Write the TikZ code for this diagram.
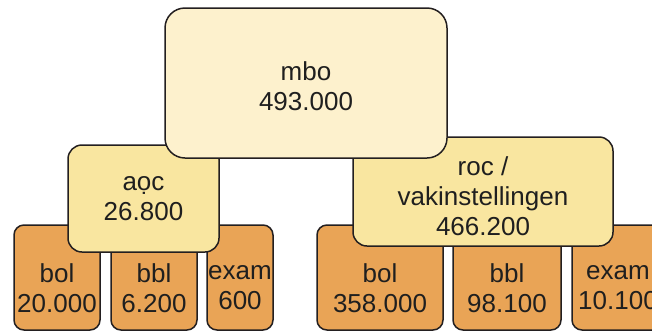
\documentclass[tikz,border=0pt]{standalone}
\usepackage{fontspec}
\setmainfont{Liberation Sans}
\definecolor{cream}{HTML}{FDF1CD}
\definecolor{yell}{HTML}{F9E6A0}
\definecolor{orng}{HTML}{E9A456}
\definecolor{edge}{HTML}{231F20}
\begin{document}
\begin{tikzpicture}[x=1pt,y=-1pt,
  box/.style={draw=edge,line width=1.5pt,inner sep=0pt,outer sep=0pt},
  topbox/.style={box,fill=cream,rounded corners=20pt},
  midbox/.style={box,fill=yell,rounded corners=14pt},
  lowbox/.style={box,fill=orng,rounded corners=10pt},
  txt/.style={inner sep=0pt,align=center,text=black!88,font=\fontsize{26}{30}\selectfont}]
\useasboundingbox (0,0) rectangle (652,333);
\begin{scope}
\clip (0,0) rectangle (652,333);
% bottom row
\node[lowbox,minimum width=86pt,minimum height=105pt] (lbol) at (57,277.5) {};
\node[lowbox,minimum width=86pt,minimum height=105pt] (lbbl) at (154,277.5) {};
\node[lowbox,minimum width=66pt,minimum height=105pt] (lexam) at (240,277.5) {};
\node[lowbox,minimum width=126pt,minimum height=105pt] (rbol) at (380,277.5) {};
\node[lowbox,minimum width=108pt,minimum height=105pt] (rbbl) at (507,277.5) {};
\node[lowbox,minimum width=128pt,minimum height=105pt] (rexam) at (636,277.5) {};
\node[txt] (lbolt) at (57,288) {bol\\20.000};
\node[txt] (lbblt) at (154,288) {bbl\\6.200};
\node[txt] (lexamt) at (240,288) {exam\\600};
\node[txt] (rbolt) at (380,288) {bol\\358.000};
\node[txt] (rbblt) at (507,288) {bbl\\98.100};
\node[txt] (rexamt) at (618,288) {exam\\10.100};
% middle row
\node[midbox,minimum width=151pt,minimum height=107pt] (aoc) at (143.5,198.5) {};
\node[txt] (aoct) at (143.5,199) {aọc\\26.800};
\node[midbox,minimum width=260pt,minimum height=109pt] (roc) at (483,191.5) {};
\node[txt] (roct) at (483,196) {roc /\\vakinstellingen\\466.200};
% top
\node[topbox,minimum width=282pt,minimum height=150pt] (mbo) at (306,83) {};
\node[txt] (mbot) at (306,86) {mbo\\493.000};
\end{scope}
\end{tikzpicture}
\end{document}
